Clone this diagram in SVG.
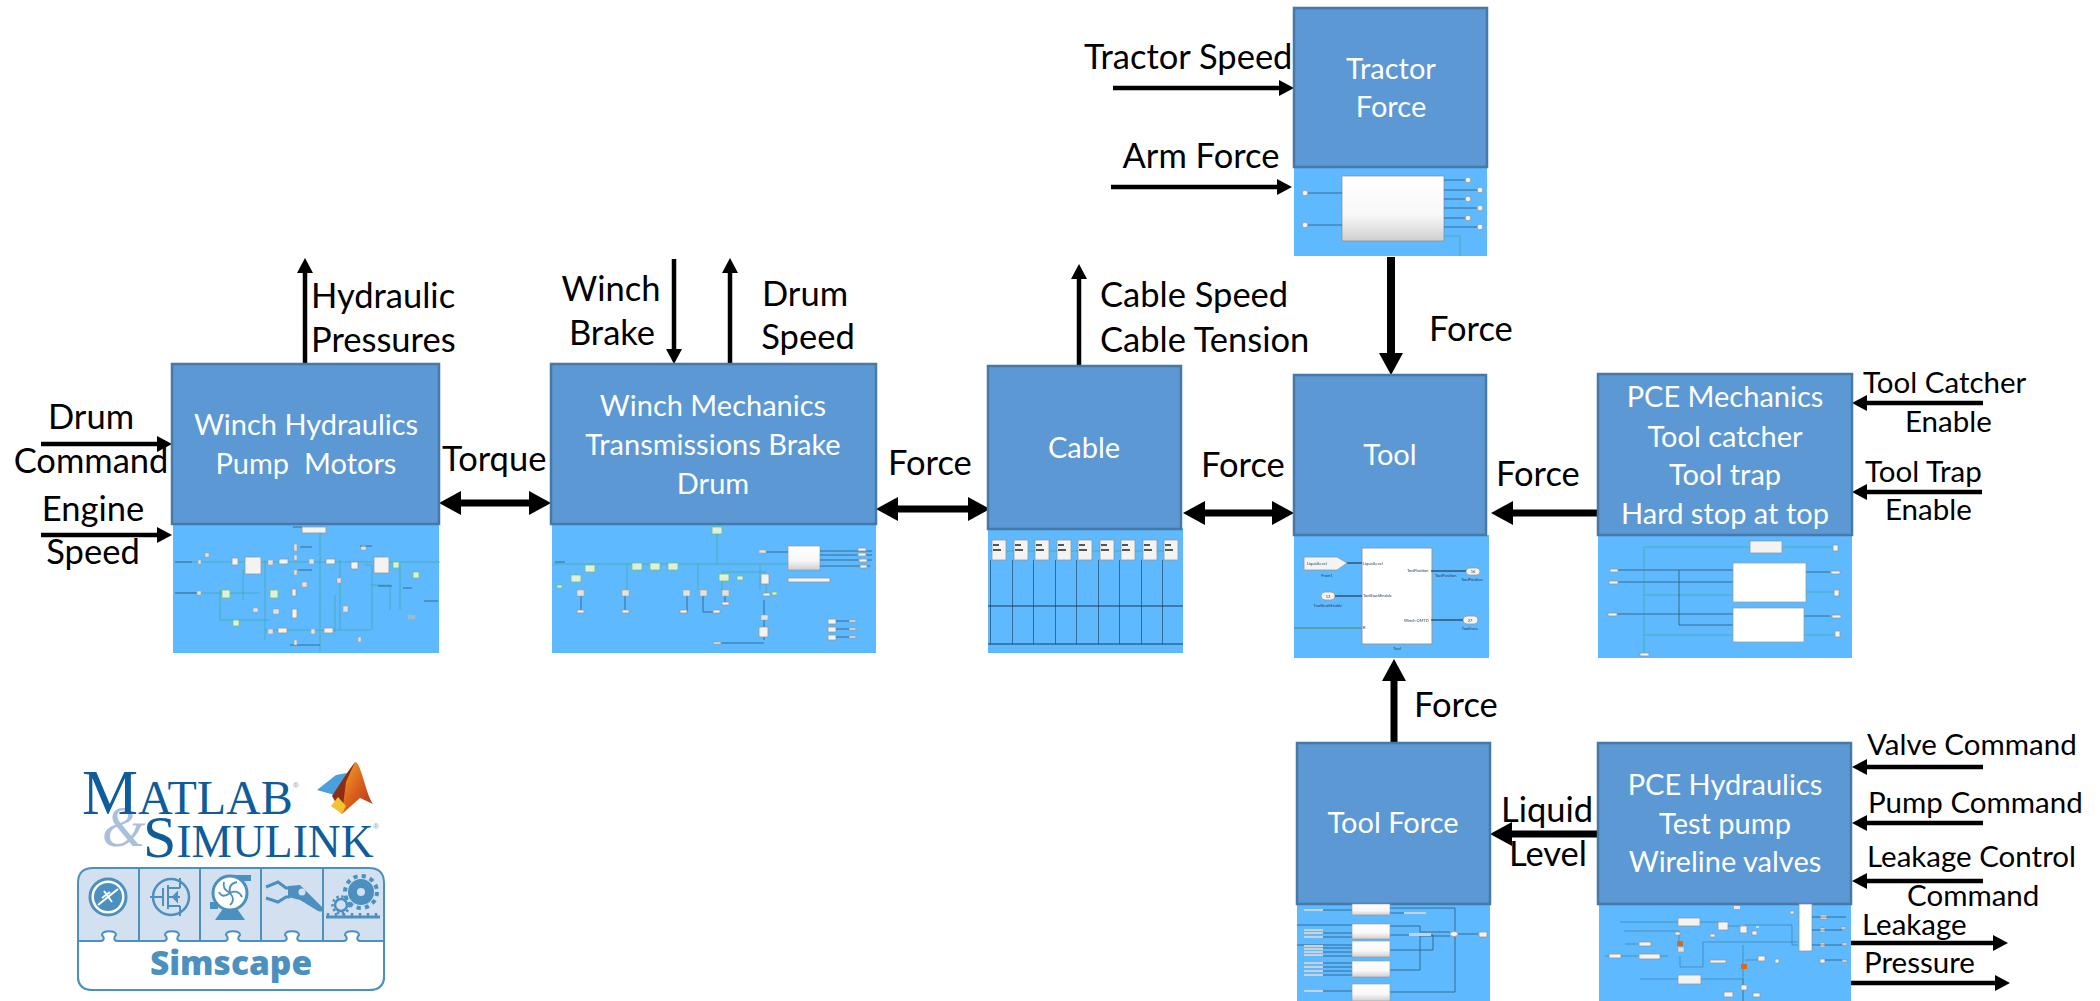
<svg xmlns="http://www.w3.org/2000/svg" width="2100" height="1001" viewBox="0 0 2100 1001">
<style>
text{font-family:Lato,"Liberation Sans",sans-serif}
.l{font-size:34.5px;fill:#000}
.r{font-size:29.5px;fill:#000}
.w{font-size:29px;fill:#fff;text-anchor:middle;white-space:pre}
.m{text-anchor:middle}
.box{fill:#5b98d4;stroke:#4679a8;stroke-width:2.5}
.sub{fill:#5fb9fe}
.a{stroke:#000;stroke-width:4.5;fill:none;marker-end:url(#s)}
.b{stroke:#000;stroke-width:7;fill:none;marker-end:url(#g)}
.d{stroke:#000;stroke-width:7;fill:none;marker-end:url(#g);marker-start:url(#g)}
.t{font-size:4px;fill:#26425c}
.wb{fill:#f3f3f1;stroke:#8d98a3;stroke-width:.8}
.sb{fill:#e9e0d6;stroke:#93a0aa;stroke-width:.5}
.gb{fill:#dff0d6;stroke:#6fbf7a;stroke-width:.8}
.ln{stroke:#3d7fa8;stroke-width:.7;fill:none}
.gl{stroke:#3fa99a;stroke-width:.7;fill:none}
.dk{stroke:#2b5878;stroke-width:.8;fill:none}
.lg{fill:#d3e0f0}
.ls{fill:none;stroke:#4c90bf;stroke-width:2}
.li{fill:#4c90bf}
.ld{fill:none;stroke:#4c90bf}
</style>
<defs>
<marker id="s" markerUnits="userSpaceOnUse" markerWidth="16" markerHeight="16" refX="0" refY="8" orient="auto-start-reverse"><path d="M0 0L15 8L0 16Z" fill="#000"/></marker>
<marker id="g" markerUnits="userSpaceOnUse" markerWidth="23" markerHeight="24" refX="0" refY="12" orient="auto-start-reverse"><path d="M0 0L22 12L0 24Z" fill="#000"/></marker>
<linearGradient id="blk" x1="0" y1="0" x2="0" y2="1"><stop offset="0" stop-color="#fff"/><stop offset=".6" stop-color="#f8f8f8"/><stop offset="1" stop-color="#cfcfcf"/></linearGradient>
<linearGradient id="peak" x1="0" y1="0" x2="1" y2="1"><stop offset="0" stop-color="#f4a82a"/><stop offset=".5" stop-color="#d9601c"/><stop offset="1" stop-color="#a9331a"/></linearGradient>
<filter id="soft" x="-2%" y="-2%" width="104%" height="104%"><feGaussianBlur stdDeviation=".6"/></filter>
</defs>

<g id="connectors">
<line class="a" x1="305" y1="364" x2="305" y2="273"/>
<line class="a" x1="41" y1="444" x2="157" y2="444"/>
<line class="a" x1="41" y1="535" x2="157" y2="535"/>
<line class="d" x1="461" y1="503" x2="529" y2="503"/>
<line class="a" x1="674" y1="259" x2="674" y2="349"/>
<line class="a" x1="730" y1="364" x2="730" y2="273"/>
<line class="d" x1="898" y1="509" x2="968" y2="509"/>
<line class="a" x1="1079" y1="370" x2="1079" y2="279"/>
<line class="a" x1="1113" y1="88" x2="1279" y2="88"/>
<line class="a" x1="1111" y1="187" x2="1277" y2="187"/>
<line class="b" x1="1391" y1="257" x2="1391" y2="353" style="stroke-width:8"/>
<line class="d" x1="1205" y1="513" x2="1272" y2="513"/>
<line class="b" x1="1598" y1="513" x2="1513" y2="513"/>
<line class="a" x1="1983" y1="403" x2="1867" y2="403"/>
<line class="a" x1="1982" y1="492" x2="1867" y2="492"/>
<line class="b" x1="1394" y1="743" x2="1394" y2="681"/>
<line class="b" x1="1598" y1="834" x2="1512" y2="834"/>
<line class="a" x1="1983" y1="767" x2="1867" y2="767"/>
<line class="a" x1="1983" y1="823" x2="1867" y2="823"/>
<line class="a" x1="1983" y1="881" x2="1867" y2="881"/>
<line class="a" x1="1850" y1="943" x2="1993" y2="943"/>
<line class="a" x1="1850" y1="983" x2="1995" y2="983"/>
</g>

<g id="winch-hydraulics">
<rect class="sub" x="173" y="524" width="266" height="129"/>
<rect class="box" x="172" y="364" width="267" height="160"/>
<text class="w" x="306" y="435">Winch Hydraulics</text>
<text class="w" x="306" y="474">Pump  Motors</text>
<g filter="url(#soft)">
<path class="gl" d="M175 562H440M243 569V600M320 525V652M265 560V640M365 565H372V630M340 560V630M400 565V610M175 593H260M265 630H370M220 590V620H270M335 595V632M370 585H390V610"/>
<rect class="wb" x="302" y="527" width="24" height="6"/>
<rect class="wb" x="245" y="557" width="16" height="17"/><rect class="wb" x="374" y="557" width="15" height="16"/>
<rect class="gb" x="222" y="590" width="8" height="8"/><rect class="gb" x="270" y="590" width="8" height="8"/><rect class="gb" x="393" y="562" width="6" height="6"/><rect class="gb" x="413" y="572" width="6" height="6"/><rect class="gb" x="233" y="620" width="6" height="6"/>
<rect class="wb" x="232" y="558" width="6" height="7"/><rect class="sb" x="268" y="560" width="5" height="5"/><rect class="wb" x="279" y="559" width="9" height="5"/><rect class="sb" x="309" y="559" width="5" height="5"/><rect class="wb" x="326" y="559" width="9" height="5"/><rect class="wb" x="351" y="562" width="7" height="7"/><rect class="sb" x="361" y="545" width="5" height="5"/><rect class="sb" x="337" y="578" width="4" height="5"/><rect class="sb" x="302" y="582" width="5" height="5"/><rect class="sb" x="343" y="606" width="5" height="6"/>
<rect class="wb" x="292" y="589" width="4" height="7"/><rect class="wb" x="292" y="609" width="5" height="9"/><rect class="sb" x="253" y="608" width="5" height="4"/><rect class="sb" x="273" y="609" width="6" height="5"/>
<rect class="wb" x="278" y="628" width="9" height="5"/><rect class="sb" x="268" y="629" width="5" height="5"/><rect class="sb" x="311" y="629" width="4" height="5"/><rect class="wb" x="324" y="628" width="9" height="5"/><rect class="sb" x="358" y="637" width="3" height="5"/>
<rect x="408" y="615" width="7" height="4" fill="#9fb9cf"/>
<path class="dk" d="M175 562H192M175 593H200M293 527H302M360 546H372M300 547H312M298 570H312M378 586H392M403 588H412M424 601H438M290 645H320"/>
<rect class="sb" x="294" y="544" width="3" height="7"/><rect class="sb" x="294" y="555" width="3" height="5"/><rect class="sb" x="294" y="570" width="3" height="5"/><rect class="sb" x="294" y="640" width="3" height="5"/>
<rect class="sb" x="205" y="553" width="4" height="4"/><rect class="sb" x="198" y="560" width="3" height="4"/><rect class="sb" x="197" y="591" width="4" height="4"/>
</g>
</g>

<g id="winch-mechanics">
<rect class="sub" x="552" y="524" width="324" height="129"/>
<rect class="box" x="551" y="364" width="325" height="160"/>
<text class="w" x="713" y="416">Winch Mechanics</text>
<text class="w" x="713" y="455">Transmissions Brake</text>
<text class="w" x="713" y="494">Drum</text>
<g filter="url(#soft)">
<path class="gl" d="M553 564H818M717 530V564M590 564V572M627 564V590M698 564V590M760 564V590M766 572H722V590M766 580V597"/>
<path class="dk" d="M581 590V612M625 590V612M687 590V612M703 590V612H717M725 590V603M764 600V640M718 643H764"/>
<rect class="gb" x="712" y="527" width="10" height="7"/>
<rect class="gb" x="585" y="565" width="10" height="7"/><rect class="gb" x="632" y="563" width="10" height="7"/><rect class="gb" x="650" y="563" width="10" height="7"/><rect class="gb" x="668" y="563" width="10" height="7"/><rect class="gb" x="571" y="575" width="10" height="7"/><rect class="gb" x="719" y="574" width="10" height="7"/><rect class="gb" x="737" y="576" width="6" height="4"/><rect class="gb" x="557" y="585" width="5" height="3"/><rect class="gb" x="772" y="592" width="5" height="3"/>
<rect class="wb" x="761" y="574" width="8" height="10"/><rect class="wb" x="763" y="593" width="7" height="3"/><rect class="sb" x="761" y="615" width="7" height="5"/><rect class="wb" x="759" y="627" width="9" height="10"/>
<rect x="788" y="546" width="32" height="24" fill="url(#blk)" stroke="#8d98a3" stroke-width=".7"/>
<rect class="wb" x="788" y="578" width="42" height="4"/>
<path class="dk" d="M761 552H788M820 551H872M820 555H872M820 560H872M820 566H870M555 562H565"/>
<rect class="sb" x="759" y="550" width="7" height="3"/>
<rect class="wb" x="858" y="548" width="8" height="3"/><rect class="wb" x="858" y="553" width="8" height="3"/><rect class="wb" x="859" y="559" width="8" height="3"/><rect class="wb" x="860" y="565" width="7" height="3"/>
<rect class="sb" x="577" y="590" width="7" height="6"/><rect class="sb" x="622" y="590" width="7" height="6"/><rect class="sb" x="683" y="590" width="7" height="6"/><rect class="sb" x="700" y="590" width="7" height="6"/><rect class="sb" x="722" y="590" width="7" height="6"/>
<rect class="wb" x="577" y="610" width="7" height="3"/><rect class="wb" x="622" y="610" width="7" height="3"/><rect class="wb" x="680" y="610" width="7" height="3"/><rect class="wb" x="713" y="610" width="7" height="3"/><rect class="wb" x="722" y="602" width="7" height="3"/>
<rect class="wb" x="828" y="619" width="8" height="5"/><rect class="wb" x="828" y="627" width="8" height="5"/><rect class="wb" x="828" y="635" width="8" height="5"/>
<rect class="wb" x="849" y="620" width="7" height="2"/><rect class="wb" x="849" y="628" width="7" height="2"/><rect class="wb" x="849" y="636" width="7" height="2"/>
<rect class="wb" x="713" y="642" width="8" height="2"/>
<path class="dk" d="M836 621H849M836 629H849M836 637H849"/>
</g>
</g>

<g id="cable">
<rect class="sub" x="988" y="528" width="195" height="125"/>
<rect class="box" x="988" y="366" width="193" height="163"/>
<text class="w" x="1084" y="458">Cable</text>
<g filter="url(#soft)">
<g class="wb">
<rect x="992" y="540" width="14" height="20"/><rect x="1014" y="540" width="14" height="20"/><rect x="1035" y="540" width="14" height="20"/><rect x="1057" y="540" width="14" height="20"/><rect x="1078" y="540" width="14" height="20"/><rect x="1100" y="540" width="14" height="20"/><rect x="1121" y="540" width="14" height="20"/><rect x="1143" y="540" width="14" height="20"/><rect x="1164" y="540" width="14" height="20"/>
</g>
<path class="dk" d="M990.500 560V644M1012.500 560V644M1033.500 560V644M1055.500 560V644M1076.500 560V644M1098.500 560V644M1119.500 560V644M1141.500 560V644M1162.500 560V644"/>
<path d="M988 606H1183M988 644H1183" stroke="#1d3f5a" stroke-width="1" fill="none"/>
<path class="gl" d="M990 551H992M1006 551H1014M1028 551H1035M1049 551H1057M1071 551H1078M1092 551H1100M1114 551H1121M1135 551H1143M1157 551H1164"/>
<path d="M993 545h6M993 550h8M1015 545h6M1015 550h8M1036 545h6M1036 550h8M1058 545h6M1058 550h8M1079 545h6M1079 550h8M1101 545h6M1101 550h8M1122 545h6M1122 550h8M1144 545h6M1144 550h8M1165 545h6M1165 550h8" stroke="#222" stroke-width="1.500" fill="none"/>
</g>
</g>

<g id="tractor-force">
<rect class="sub" x="1294" y="167" width="193" height="89"/>
<rect class="box" x="1294" y="8" width="193" height="159"/>
<text class="w" x="1391" y="79">Tractor</text>
<text class="w" x="1391" y="117">Force</text>
<g filter="url(#soft)">
<rect x="1342" y="176" width="102" height="65" fill="url(#blk)" stroke="#7f8a94" stroke-width=".7"/>
<path class="dk" d="M1308 193H1342M1308 225H1342M1444 180H1468M1444 190H1480M1444 199H1468M1444 208H1480M1444 218H1468M1444 227H1480"/>
<path class="gl" d="M1444 236H1460V256"/>
<g class="wb"><circle cx="1305" cy="193" r="2.800"/><circle cx="1305" cy="225" r="2.800"/><circle cx="1468" cy="180" r="2.800"/><circle cx="1480" cy="190" r="2.800"/><circle cx="1468" cy="199" r="2.800"/><circle cx="1480" cy="208" r="2.800"/><circle cx="1468" cy="218" r="2.800"/><circle cx="1480" cy="227" r="2.800"/></g>
</g>
</g>

<g id="tool">
<rect class="sub" x="1294" y="535" width="195" height="123"/>
<rect class="box" x="1294" y="375" width="192" height="160"/>
<text class="w" x="1390" y="465">Tool</text>
<g filter="url(#soft)">
<rect x="1362" y="548" width="70" height="96" fill="#fff" stroke="#8d98a3"/>
<path class="wb" d="M1304 557H1337L1347 563L1337 570H1304Z"/>
<rect class="wb" x="1321" y="592" width="14" height="8" rx="4"/>
<rect class="wb" x="1466" y="568" width="14" height="7" rx="3.500"/>
<rect class="wb" x="1463" y="616" width="15" height="8" rx="4"/>
<path d="M1347 563H1362M1335 596H1362M1431 571H1466M1431 620H1463" stroke="#123" stroke-width="1" fill="none"/>
<path d="M1294 628H1362" stroke="#4f9a9c" stroke-width="1.500"/>
<text class="t" x="1307" y="565">LiquidLevel</text>
<text class="t m" x="1327" y="577">From1</text>
<text class="t m" x="1328" y="598">13</text>
<text class="t m" x="1328" y="607">ToolStuckEnable</text>
<text class="t" x="1363" y="565">LiquidLevel</text>
<text class="t" x="1363" y="597">ToolStuckEnable</text>
<text class="t" x="1363" y="629">R</text>
<text class="t" x="1407" y="572">ToolPosition</text>
<text class="t" x="1404" y="622">Winch OMTD</text>
<text class="t" x="1435" y="577">ToolPosition</text>
<text class="t m" x="1473" y="573">16</text>
<text class="t m" x="1472" y="581">ToolPosition</text>
<text class="t m" x="1470" y="622">27</text>
<text class="t m" x="1470" y="630">Toolforce</text>
<text class="t m" x="1397" y="650">Tool</text>
</g>
</g>

<g id="pce-mechanics">
<rect class="sub" x="1598" y="535" width="254" height="123"/>
<rect class="box" x="1598" y="374" width="254" height="161"/>
<text class="w" x="1725" y="407">PCE Mechanics</text>
<text class="w" x="1725" y="447">Tool catcher</text>
<text class="w" x="1725" y="485">Tool trap</text>
<text class="w" x="1725" y="524">Hard stop at top</text>
<g filter="url(#soft)">
<path class="gl" d="M1644 547H1750M1644 547V653M1644 595H1733M1644 635H1733M1783 547H1834M1806 592H1834M1804 635H1834"/>
<path class="dk" d="M1614 570H1733M1614 582H1733M1613 614H1733M1679 570V625H1733M1806 572H1830M1804 616H1830"/>
<rect class="wb" x="1750" y="541" width="32" height="12"/>
<rect x="1733" y="563" width="73" height="39" fill="#fff" stroke="#8d98a3" stroke-width=".7"/>
<rect x="1733" y="608" width="71" height="34" fill="#fff" stroke="#8d98a3" stroke-width=".7"/>
<rect class="wb" x="1610" y="569" width="8" height="3"/><rect class="wb" x="1609" y="581" width="9" height="3"/><rect class="wb" x="1608" y="613" width="9" height="3"/><rect class="wb" x="1831" y="571" width="9" height="3"/><rect class="wb" x="1832" y="615" width="9" height="3"/><rect class="wb" x="1640" y="653" width="9" height="3"/>
<rect class="wb" x="1833" y="545" width="5" height="6"/><rect class="wb" x="1834" y="590" width="5" height="6"/><rect class="wb" x="1835" y="631" width="5" height="6"/>
</g>
</g>

<g id="tool-force">
<rect class="sub" x="1297" y="904" width="193" height="97"/>
<rect class="box" x="1297" y="743" width="193" height="161"/>
<text class="w" x="1393" y="833">Tool Force</text>
<g filter="url(#soft)">
<path class="dk" d="M1323 910H1352M1297 925H1352M1323 933H1352M1323 937H1352M1297 945H1352M1323 948H1352M1323 952H1352M1323 956H1352M1323 963H1352M1323 967H1352M1323 971H1352M1323 975H1352M1323 991H1352M1390 908H1455V992H1390M1390 913H1404M1390 926H1420V932H1450M1390 935H1433V950H1390M1390 970H1420V936H1450M1458 934H1478"/>
<g fill="url(#blk)" stroke="#8d98a3" stroke-width=".6"><rect x="1352" y="904" width="38" height="11"/><rect x="1352" y="924" width="38" height="15"/><rect x="1352" y="941" width="38" height="16"/><rect x="1352" y="961" width="38" height="16"/><rect x="1352" y="984" width="38" height="17"/></g>
<g fill="#c8d2dc"><rect x="1304" y="909" width="19" height="2"/><rect x="1304" y="929" width="19" height="2"/><rect x="1304" y="932" width="19" height="2"/><rect x="1304" y="936" width="19" height="2"/><rect x="1304" y="945" width="19" height="2"/><rect x="1304" y="948" width="19" height="2"/><rect x="1304" y="951" width="19" height="2"/><rect x="1304" y="954" width="19" height="2"/><rect x="1304" y="962" width="19" height="2"/><rect x="1304" y="966" width="19" height="2"/><rect x="1304" y="970" width="19" height="2"/><rect x="1304" y="974" width="19" height="2"/><rect x="1304" y="990" width="19" height="2"/><rect x="1404" y="912" width="22" height="2"/><rect x="1409" y="933" width="22" height="3"/></g>
<ellipse class="wb" cx="1454" cy="934" rx="4" ry="2.500"/>
<rect class="wb" x="1479" y="932" width="8" height="5"/>
</g>
</g>

<g id="pce-hydraulics">
<rect class="sub" x="1599" y="904" width="252" height="97"/>
<rect class="box" x="1598" y="743" width="253" height="161"/>
<text class="w" x="1725" y="795">PCE Hydraulics</text>
<text class="w" x="1725" y="834">Test pump</text>
<text class="w" x="1725" y="872">Wireline valves</text>
<g filter="url(#soft)">
<path class="ln" d="M1620 922H1678M1624 931H1679V945M1625 944H1640M1605 956H1668M1680 956V967H1703V942H1798M1640 979H1678M1700 979H1743V1001M1743 945V1001M1700 922H1720M1723 926H1740M1745 925H1792V945H1798M1745 960H1760"/>
<rect class="wb" x="1799" y="904" width="13" height="47" style="fill:#fff"/>
<rect class="wb" x="1678" y="918" width="22" height="8"/><rect class="wb" x="1639" y="942" width="12" height="4"/><rect class="wb" x="1639" y="954" width="21" height="5"/><rect class="wb" x="1609" y="954" width="12" height="4"/>
<rect class="wb" x="1710" y="960" width="16" height="3"/><rect class="wb" x="1678" y="975" width="23" height="9"/>
<rect class="wb" x="1718" y="922" width="10" height="8"/><rect class="wb" x="1740" y="926" width="7" height="7"/><rect class="wb" x="1752" y="931" width="5" height="4"/>
<rect class="wb" x="1758" y="956" width="7" height="5"/><rect class="wb" x="1775" y="959" width="4" height="4"/><rect class="wb" x="1675" y="932" width="5" height="3"/><rect class="wb" x="1710" y="934" width="5" height="3"/>
<rect class="wb" x="1820" y="915" width="7" height="4"/><rect class="wb" x="1820" y="928" width="5" height="4"/><rect class="wb" x="1820" y="943" width="5" height="4"/><rect class="wb" x="1820" y="959" width="5" height="4"/>
<rect class="wb" x="1841" y="927" width="5" height="2"/><rect class="wb" x="1842" y="943" width="5" height="2"/><rect class="wb" x="1842" y="960" width="5" height="2"/>
<rect x="1677" y="941" width="6" height="5" fill="#d9691e"/><rect x="1741" y="964" width="6" height="5" fill="#d9691e"/>
<rect class="sb" x="1678" y="947" width="6" height="5"/><rect x="1734" y="906" width="6" height="3" fill="#f1e6f6"/><rect class="wb" x="1790" y="911" width="4" height="3"/><rect x="1756" y="926" width="3" height="2" fill="#a7efd9"/>
<rect class="wb" x="1741" y="985" width="6" height="5"/><rect class="wb" x="1724" y="992" width="9" height="5"/><rect class="wb" x="1753" y="993" width="7" height="4"/>
<path class="dk" d="M1812 917H1846M1812 930H1842M1812 945H1842M1825 960H1842"/>
</g>
</g>

<g id="labels">
<text class="l" x="311" y="308">Hydraulic</text>
<text class="l" x="311" y="352">Pressures</text>
<text class="l m" x="91" y="429">Drum</text>
<text class="l m" x="91" y="473">Command</text>
<text class="l m" x="93" y="521">Engine</text>
<text class="l m" x="93" y="564">Speed</text>
<text class="l" x="442" y="471">Torque</text>
<text class="l m" x="611" y="301">Winch</text>
<text class="l m" x="612" y="345">Brake</text>
<text class="l m" x="805" y="306">Drum</text>
<text class="l m" x="808" y="349">Speed</text>
<text class="l" x="888" y="475">Force</text>
<text class="l" x="1100" y="307">Cable Speed</text>
<text class="l" x="1100" y="352">Cable Tension</text>
<text class="l" x="1084" y="69">Tractor Speed</text>
<text class="l m" x="1201" y="168">Arm Force</text>
<text class="l" x="1429" y="341">Force</text>
<text class="l" x="1201" y="477">Force</text>
<text class="l" x="1496" y="486">Force</text>
<text class="l" x="1414" y="717">Force</text>
<text class="l m" x="1547" y="822">Liquid</text>
<text class="l m" x="1548" y="866">Level</text>
<text class="r" x="1863" y="393">Tool Catcher</text>
<text class="r" x="1905" y="432">Enable</text>
<text class="r" x="1865" y="482">Tool Trap</text>
<text class="r" x="1885" y="520">Enable</text>
<text class="r" x="1867" y="755">Valve Command</text>
<text class="r" x="1868" y="813">Pump Command</text>
<text class="r" x="1867" y="867">Leakage Control</text>
<text class="r" x="1907" y="906">Command</text>
<text class="r" x="1862" y="935">Leakage</text>
<text class="r" x="1864" y="973">Pressure</text>
</g>

<g id="logo">
<text x="102" y="846" fill="#a9bfdc" style="font-family:'Liberation Serif',serif;font-size:56px;font-style:italic">&amp;</text>
<text x="82" y="814" fill="#0f5c9a" style="font-family:'Liberation Serif',serif;font-size:63px">M<tspan font-size="48">ATLAB</tspan></text>
<text x="293" y="788" fill="#7ea3c4" style="font-family:'Liberation Sans',sans-serif;font-size:8px">®</text>
<text x="143" y="857" fill="#0f5c9a" style="font-family:'Liberation Serif',serif;font-size:60px">S<tspan font-size="45.500">IMULINK</tspan></text>
<text x="373" y="829" fill="#7ea3c4" style="font-family:'Liberation Sans',sans-serif;font-size:8px">®</text>
<path d="M317 790L336 775L347 773L338 796Z" fill="#4a9fdc"/>
<path d="M332 796L347 773L355 762L342 814Z" fill="#8f2c14"/>
<path d="M342 814L346 782L355 762C361 762 366 795 373 804L360 798Z" fill="url(#peak)"/>
<path d="M331 806L338 797L346 806L342 814Z" fill="#f2c230"/>
<path class="lg" d="M93 868H369A15 15 0 0 1 384 883V942H78V883A15 15 0 0 1 93 868Z"/>
<path class="ls" d="M93 868H369Q384 868 384 883V976Q384 990 369 990H93Q78 990 78 976V883Q78 868 93 868ZM139 868V941M200 868V941M261 868V941M323 868V941"/>
<path class="ls" style="fill:#fff" d="M78 941H100c4 0 5-3 2-6 0-5 14-5 14 0-3 3-2 6 2 6H163c4 0 5-3 2-6 0-5 14-5 14 0-3 3-2 6 2 6H224c4 0 5-3 2-6 0-5 14-5 14 0-3 3-2 6 2 6H283c4 0 5-3 2-6 0-5 14-5 14 0-3 3-2 6 2 6H343c4 0 5-3 2-6 0-5 14-5 14 0-3 3-2 6 2 6H384V976Q384 990 369 990H93Q78 990 78 976Z"/>
<text x="231" y="975" text-anchor="middle" fill="#4c90bf" style="font-family:'Open Sans',sans-serif;font-size:33.500px;font-weight:800">Simscape</text>
<g id="icon-diode"><circle class="ld" cx="108" cy="897" r="18" stroke-width="3" style="fill:#fff"/><circle class="li" cx="108" cy="897" r="14"/><path d="M98 905L118 889M104 891L112 902M102 898L110 892" stroke="#fff" stroke-width="2" fill="none"/></g>
<g id="icon-mosfet"><circle class="ld" cx="171" cy="897" r="18" stroke-width="2.500"/><path class="ld" stroke-width="2" d="M150 897H163M163 888V906M168 885V909M168 888H180M168 897H180M168 906H180M180 878V888M180 906V916M173 897L177 893V901Z"/></g>
<g id="icon-pump"><rect class="li" x="225" y="875" width="26" height="6"/><circle cx="230" cy="893" r="17" fill="#fff" stroke="#4c90bf" stroke-width="3"/><path class="ld" stroke-width="1.800" d="M230 893Q228 884 237 882M230 893Q238 889 242 897M230 893Q236 900 230 905M230 893Q222 899 219 892M230 893Q222 889 224 882"/><path class="li" d="M215 920L222 910H238L245 920Z"/><rect class="li" x="210" y="902" width="8" height="7"/></g>
<g id="icon-arm"><path class="ld" stroke-width="3" d="M266 887L278 882L286 888H290M266 898L278 902L286 897H290"/><path class="li" d="M288 886L300 885L322 907Q326 913 318 911L300 900L288 897Z"/><circle cx="302" cy="892" r="3.500" fill="#d3e0f0"/></g>
<g id="icon-gears"><circle class="li" cx="361" cy="892" r="13"/><circle cx="361" cy="892" r="16" fill="none" stroke="#4c90bf" stroke-width="4" stroke-dasharray="4.200 4.200"/><circle cx="361" cy="892" r="4" fill="#d3e0f0"/><circle cx="341" cy="905" r="6" fill="none" stroke="#4c90bf" stroke-width="2.500"/><circle cx="341" cy="905" r="8.500" fill="none" stroke="#4c90bf" stroke-width="2.500" stroke-dasharray="2.500 2.500"/><path d="M326 917H380" stroke="#4c90bf" stroke-width="3"/><path d="M328 917V913M336 917V913M344 917V913M352 917V913M360 917V913M368 917V913M376 917V913" stroke="#4c90bf" stroke-width="2.500"/></g>
</g>
</svg>
